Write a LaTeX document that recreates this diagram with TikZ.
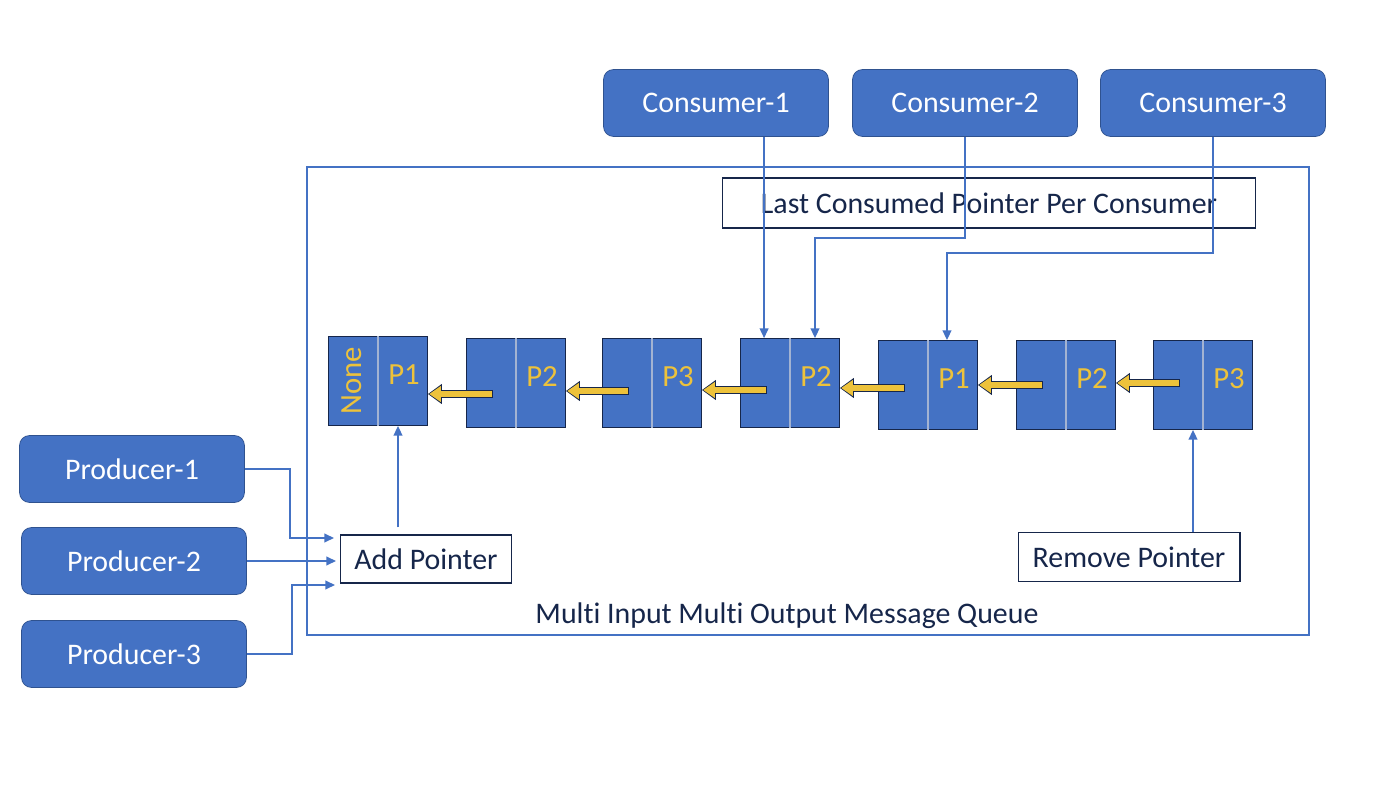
\documentclass[tikz,border=0pt]{standalone}
\usepackage{fontspec}
\setmainfont{Carlito}[Ligatures={NoCommon,NoContextual}, Contextuals=NoAlternate]
\usetikzlibrary{arrows.meta,calc}

\definecolor{boxblue}{HTML}{4472C4}
\definecolor{boxline}{HTML}{2F528F}
\definecolor{navy}{HTML}{16264A}
\definecolor{gold}{HTML}{EDC23B}
\definecolor{divline}{HTML}{A3B3D2}

\tikzset{
  actor/.style={draw=boxline, fill=boxblue, rounded corners=0.2cm, text=white,
    minimum width=4.5cm, minimum height=1.34cm, font=\fontsize{17}{20}\selectfont},
  ptrbox/.style={draw=navy, fill=white, text=navy, line width=0.6pt,
    font=\fontsize{17}{20}\selectfont, inner sep=0pt},
  cell/.style={draw=navy, fill=boxblue, line width=0.5pt,
    minimum width=1.98cm, minimum height=1.78cm},
  plabel/.style={text=gold, font=\fontsize{17.5}{20}\selectfont},
  link/.style={draw=boxblue, line width=0.8pt, -{Triangle[length=5.5pt,width=5pt]}},
  nextout/.style={draw=navy, line width=4.6pt, -{Triangle[length=8pt,width=11pt]}},
  nextin/.style={draw=gold, line width=3.2pt, shorten >=0.7pt, -{Triangle[length=6.6pt,width=8.6pt]}},
}

\begin{document}
\begin{tikzpicture}[x=0.02cm, y=-0.02cm]
  \useasboundingbox (0,0) rectangle (1400,790);

  % the queue frame
  \draw[boxblue, line width=0.6pt] (307,167) rectangle (1309,635);
  \node[text=navy, font=\fontsize{17}{20}\selectfont] (mqlabel) at (787,616)
    {Multi Input Multi Output Message Queue};

  % consumers and producers
  \node[actor] (cons1) at (716,103) {Consumer-1};
  \node[actor] (cons2) at (965,103) {Consumer-2};
  \node[actor] (cons3) at (1213,103) {Consumer-3};
  \node[actor] (prod1) at (132,469) {Producer-1};
  \node[actor] (prod2) at (134,561) {Producer-2};
  \node[actor] (prod3) at (134,654) {Producer-3};

  % pointer boxes
  \node[ptrbox, minimum width=10.68cm, minimum height=1cm] (lastptr) at (989,203)
    {Last Consumed Pointer Per Consumer};
  \node[ptrbox, minimum width=3.42cm, minimum height=0.96cm] (addp) at (426,559) {Add Pointer};
  \node[ptrbox, minimum width=4.44cm, minimum height=0.98cm] (remp) at (1129,557) {Remove Pointer};

  % queue cells
  \foreach \i/\x/\y/\p in {1/378/381/P1, 2/516/383/P2, 3/652/383/P3, 4/790/383/P2,
                           5/928/385/P1, 6/1066/385/P2, 7/1203/385/P3}
  {
    \node[cell] (c\i) at (\x,\y) {};
    \draw[divline, line width=0.7pt] (c\i.north) -- (c\i.south);
    \node[plabel] (p\i) at ($(c\i.center)+(26,-6)$) {\p};
  }
  \node[plabel, rotate=90] (none) at ($(c1.center)+(-26,0)$) {None};

  % next links between cells
  \foreach \i/\j/\dy in {2/1/11, 3/2/8, 4/3/7, 5/4/3, 6/5/0, 7/6/-2}
  {
    \coordinate (s\i) at ($(c\i.west)+(27,\dy)$);
    \draw[nextout] (s\i) -- (c\j.east |- s\i);
    \draw[nextin] ($(s\i)+(-1,0)$) -- (c\j.east |- s\i);
  }

  % consumer pointers
  \coordinate (t1) at ($(c4.north west)+(24,0)$);
  \coordinate (t2) at ($(c4.north)+(25,0)$);
  \coordinate (t3) at ($(c5.north)+(19,0)$);
  \draw[link] (t1 |- cons1.south) -- (t1);
  \draw[link] (cons2.south) -- ++(0,101) -| (t2);
  \draw[link] (cons3.south) -- ++(0,116) -| (t3);

  % producers into add pointer
  \coordinate (in1) at ($(addp.west)+(-6,-21)$);
  \coordinate (in2) at ($(addp.west)+(-4,2)$);
  \coordinate (in3) at ($(addp.west)+(-5,26)$);
  \draw[link] (prod1.east) -- ++(45,0) |- (in1);
  \draw[link] (prod2.east |- in2) -- (in2);
  \draw[link] (prod3.east) -- ++(45,0) |- (in3);

  % head and tail pointers
  \coordinate (hp) at ($(c1.south)+(20,0)$);
  \coordinate (rp) at ($(c7.south)+(-10,0)$);
  \draw[link] ($(hp |- addp.north)+(0,-7)$) -- (hp);
  \draw[link] (rp |- remp.north) -- (rp);
\end{tikzpicture}
\end{document}
